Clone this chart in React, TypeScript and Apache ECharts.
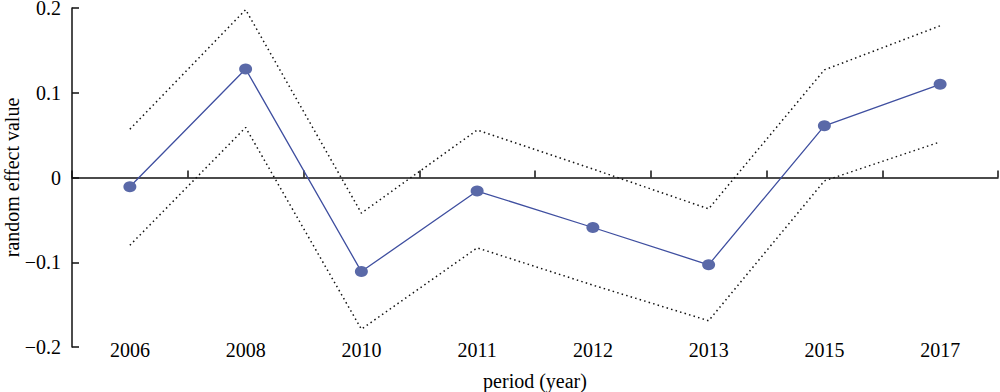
import React, { useEffect, useRef } from "react";
import * as echarts from "echarts";

const categories = ["2006", "2008", "2010", "2011", "2012", "2013", "2015", "2017"];
const effectValues = [-0.011, 0.128, -0.111, -0.016, -0.059, -0.103, 0.061, 0.11];
const upperBound = [0.057, 0.198, -0.042, 0.056, 0.01, -0.037, 0.127, 0.179];
const lowerBound = [-0.08, 0.059, -0.179, -0.083, -0.127, -0.169, -0.004, 0.042];
const yTicks = { min: -0.2, max: 0.2, interval: 0.1 };

const FONT = "'Liberation Serif', 'Times New Roman', serif";
const FS = 20;

export default function App() {
  const ref = useRef<HTMLDivElement>(null);
  useEffect(() => {
    if (!ref.current) return;
    const chart = echarts.init(ref.current, null, { renderer: "svg" });
    const dotted = {
      color: "#111",
      width: 1.5,
      type: [1.5, 3.2] as any,
      cap: "butt" as const,
    };
    chart.setOption({
      animation: false,
      grid: { left: 72, right: 2, top: 8, bottom: 45, containLabel: false, outerBoundsMode: "none" },
      xAxis: [
        {
          type: "category",
          data: categories,
          boundaryGap: true,
          position: "bottom",
          axisLine: { show: false, onZero: false },
          axisTick: { show: false },
          axisLabel: {
            color: "#000",
            fontFamily: FONT,
            fontSize: FS,
            verticalAlign: "middle",
            margin: 3,
          },
          name: "period (year)",
          nameLocation: "middle",
          nameGap: 24,
          nameMoveOverlap: false,
          nameTextStyle: { color: "#000", fontFamily: FONT, fontSize: FS },
          splitLine: { show: false },
        },
        {
          type: "category",
          data: categories,
          boundaryGap: true,
          position: "bottom",
          axisLine: { show: true, onZero: true, lineStyle: { color: "#111", width: 1.5 } },
          axisTick: { show: true, inside: true, length: 7, lineStyle: { color: "#111", width: 1.5 } },
          axisLabel: { show: false },
          splitLine: { show: false },
        },
      ],
      yAxis: {
        type: "value",
        min: yTicks.min,
        max: yTicks.max,
        interval: yTicks.interval,
        axisLine: { show: true, onZero: false, lineStyle: { color: "#111", width: 1.5 } },
        axisTick: { show: true, inside: true, length: 7, lineStyle: { color: "#111", width: 1.5 } },
        splitLine: { show: false },
        axisLabel: {
          color: "#000",
          fontFamily: FONT,
          fontSize: FS,
          lineHeight: 15,
          padding: [4, 0, 0, 0],
          margin: 11,
          formatter: (v: number) => {
            const r = Math.round(v * 10) / 10;
            if (r === 0) return "0";
            return String(r).replace("-", "\u2212");
          },
        },
        name: "random effect value",
        nameLocation: "middle",
        nameGap: 50,
        nameRotate: 90,
        nameMoveOverlap: false,
        nameTextStyle: { color: "#000", fontFamily: FONT, fontSize: FS },
      },
      series: [
        {
          type: "line",
          data: upperBound,
          xAxisIndex: 0,
          symbol: "none",
          lineStyle: dotted,
          z: 2,
        },
        {
          type: "line",
          data: lowerBound,
          xAxisIndex: 0,
          symbol: "none",
          lineStyle: dotted,
          z: 2,
        },
        {
          type: "line",
          data: effectValues,
          xAxisIndex: 0,
          symbol: "circle",
          symbolSize: [13, 11],
          itemStyle: { color: "#5a69a8" },
          lineStyle: { color: "#3f4fa0", width: 1.3 },
          z: 3,
        },
      ],
    });
    return () => chart.dispose();
  }, []);
  return (
    <div
      ref={ref}
      style={{ position: "fixed", left: 0, top: 0, width: 1000, height: 392, background: "#fff" }}
    />
  );
}
